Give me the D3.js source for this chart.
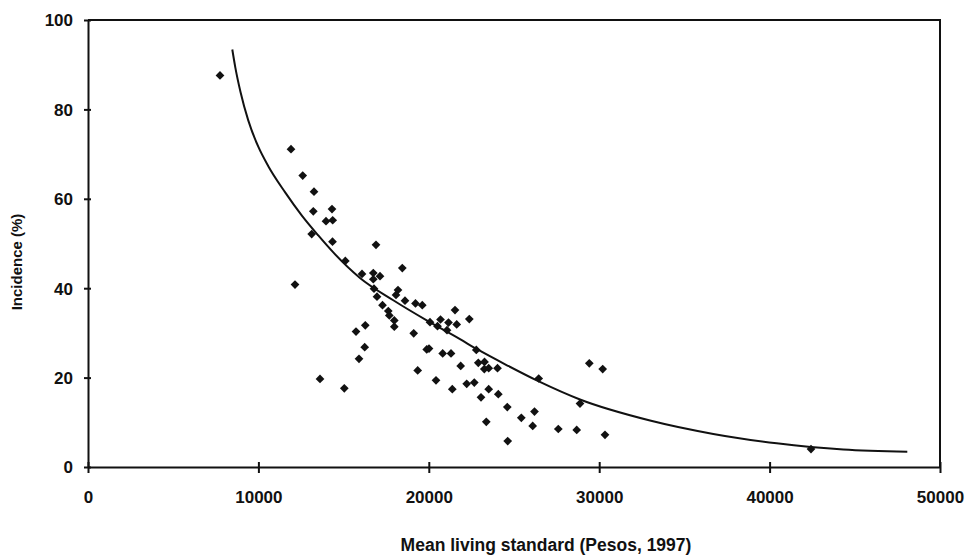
<!DOCTYPE html>
<html>
<head>
<meta charset="utf-8">
<script src="https://cdn.jsdelivr.net/npm/d3@7"></script>
<style>
    body { margin:0; background:#fff; }
    text { font-family:"Liberation Sans", Arial, sans-serif; font-weight:bold; fill:#111; }
    .axis path, .axis line { stroke:#111; stroke-width:2px; }
</style>
</head>
<body>
<div id="chart"></div>
<script>
// mean living standard (pesos, 1997) for each point
var livingStd = [7746, 11913, 12600, 13263, 13222, 14319, 13967, 14360, 13128, 14349,
    16901, 15100, 18445, 12148, 16080, 16743, 17136, 16743, 16784, 16960,
    17283, 18192, 18075, 18603, 19219, 19618, 17623, 17682, 17975, 17975,
    21538, 22377, 20070, 20687, 20511, 21156, 21068, 21637, 19114, 15728,
    16273, 16238, 15904, 19877, 20012, 20815, 21303, 22787, 21872, 22905,
    23269, 23257, 23515, 24032, 19348, 13615, 15041, 20423, 21379, 22224,
    22670, 23063, 23515, 24079, 23374, 24607, 24630, 25429, 26203, 26097,
    26450, 27600, 28680, 28873, 29419, 30205, 30340, 42430];
// incidence (%) for each point
var incidence = [87.6, 71.1, 65.2, 61.6, 57.2, 57.7, 55.0, 55.2, 52.1, 50.4,
    49.7, 46.1, 44.5, 40.8, 43.2, 43.4, 42.7, 42.0, 39.9, 38.1,
    36.2, 39.6, 38.5, 37.2, 36.6, 36.2, 34.9, 33.9, 32.8, 31.4,
    35.1, 33.1, 32.4, 33.0, 31.5, 32.3, 30.6, 31.9, 29.9, 30.3,
    31.7, 26.8, 24.2, 26.3, 26.5, 25.4, 25.4, 26.2, 22.6, 23.3,
    23.5, 21.9, 22.1, 22.1, 21.6, 19.7, 17.6, 19.4, 17.4, 18.6,
    18.9, 15.6, 17.4, 16.3, 10.1, 13.4, 5.8, 11.0, 12.4, 9.2,
    19.8, 8.5, 8.3, 14.2, 23.2, 21.9, 7.2, 4.0];

// fitted curve
var fitX = [8468, 8650, 8950, 9400, 10000, 10581, 11561, 12541, 13515, 14396, 15962,
    17916, 19877, 21831, 22810, 24665, 26426, 28873, 32981, 36696, 40417, 44325, 48081];
var fitY = [93.4, 89.3, 83.9, 77.6, 71.6, 67.3, 61.5, 56.3, 51.8, 48.0, 42.3,
    37.3, 32.8, 28.6, 26.4, 22.6, 19.2, 15.1, 10.4, 7.4, 5.3, 3.9, 3.4];

var xTicks = [0, 10000, 20000, 30000, 40000, 50000];
var yTicks = [0, 20, 40, 60, 80, 100];

var margin = {top:20, right:30, bottom:89, left:88};
var w = 970 - margin.left - margin.right;
var h = 556 - margin.top - margin.bottom;

var svg = d3.select("#chart").append("svg")
        .attr("width", 970)
        .attr("height", 556)
        .append("g")
        .attr("transform", "translate(" + margin.left + "," + margin.top + ")");

var scaleX = d3.scaleLinear().domain([0, 50000]).range([0, w]);
var scaleY = d3.scaleLinear().domain([0, 100]).range([h, 0]);

// frame (top and right sides)
svg.append("path")
    .attr("d", "M0,0H" + w + "V" + h)
    .attr("fill", "none")
    .attr("stroke", "#111")
    .attr("stroke-width", 2);

var xAxis = d3.axisBottom(scaleX).tickValues(xTicks).tickSize(6).tickSizeOuter(0)
        .tickFormat(d3.format("d"));
var yAxis = d3.axisLeft(scaleY).tickValues(yTicks).tickSize(4).tickSizeOuter(0);

var gx = svg.append("g")
    .attr("class", "x axis")
    .attr("transform", "translate(0," + h + ")")
    .call(xAxis);
gx.selectAll(".tick line").attr("y1", -5);
gx.selectAll(".tick text")
    .attr("y", 36)
    .attr("dy", 0)
    .style("font-size", "17px");

var gy = svg.append("g")
    .attr("class", "y axis")
    .call(yAxis);
gy.selectAll(".tick line").attr("x1", 3);
gy.selectAll(".tick text")
    .attr("x", -15)
    .attr("dy", "0.35em")
    .style("font-size", "17px");

svg.selectAll(".domain").attr("stroke", "#111");

// axis titles
svg.append("text")
    .attr("x", 458)
    .attr("y", 531)
    .attr("text-anchor", "middle")
    .style("font-size", "17.5px")
    .text("Mean living standard (Pesos, 1997)");

svg.append("text")
    .attr("transform", "translate(-66," + 242 + ") rotate(-90)")
    .attr("text-anchor", "middle")
    .style("font-size", "15px")
    .text("Incidence (%)");

// trend curve
var fit = fitX.map(function(x, i){
    return {x:x, y:fitY[i]};
});
var line = d3.line()
        .x(function(d){ return scaleX(d.x); })
        .y(function(d){ return scaleY(d.y); })
        .curve(d3.curveMonotoneX);

svg.append("path")
    .datum(fit)
    .attr("d", line)
    .attr("fill", "none")
    .attr("stroke", "#111")
    .attr("stroke-width", 2);

// data points, diamonds
var points = livingStd.map(function(x, i){
    return {x:x, y:incidence[i]};
});
var diamond = d3.symbol().type(d3.symbolSquare).size(38);

svg.selectAll(".pt")
    .data(points)
    .enter().append("path")
    .attr("class", "pt")
    .attr("d", diamond)
    .attr("transform", function(d){
        return "translate(" + scaleX(d.x) + "," + scaleY(d.y) + ") rotate(45)";
    })
    .attr("fill", "#111");
</script>
</body>
</html>
